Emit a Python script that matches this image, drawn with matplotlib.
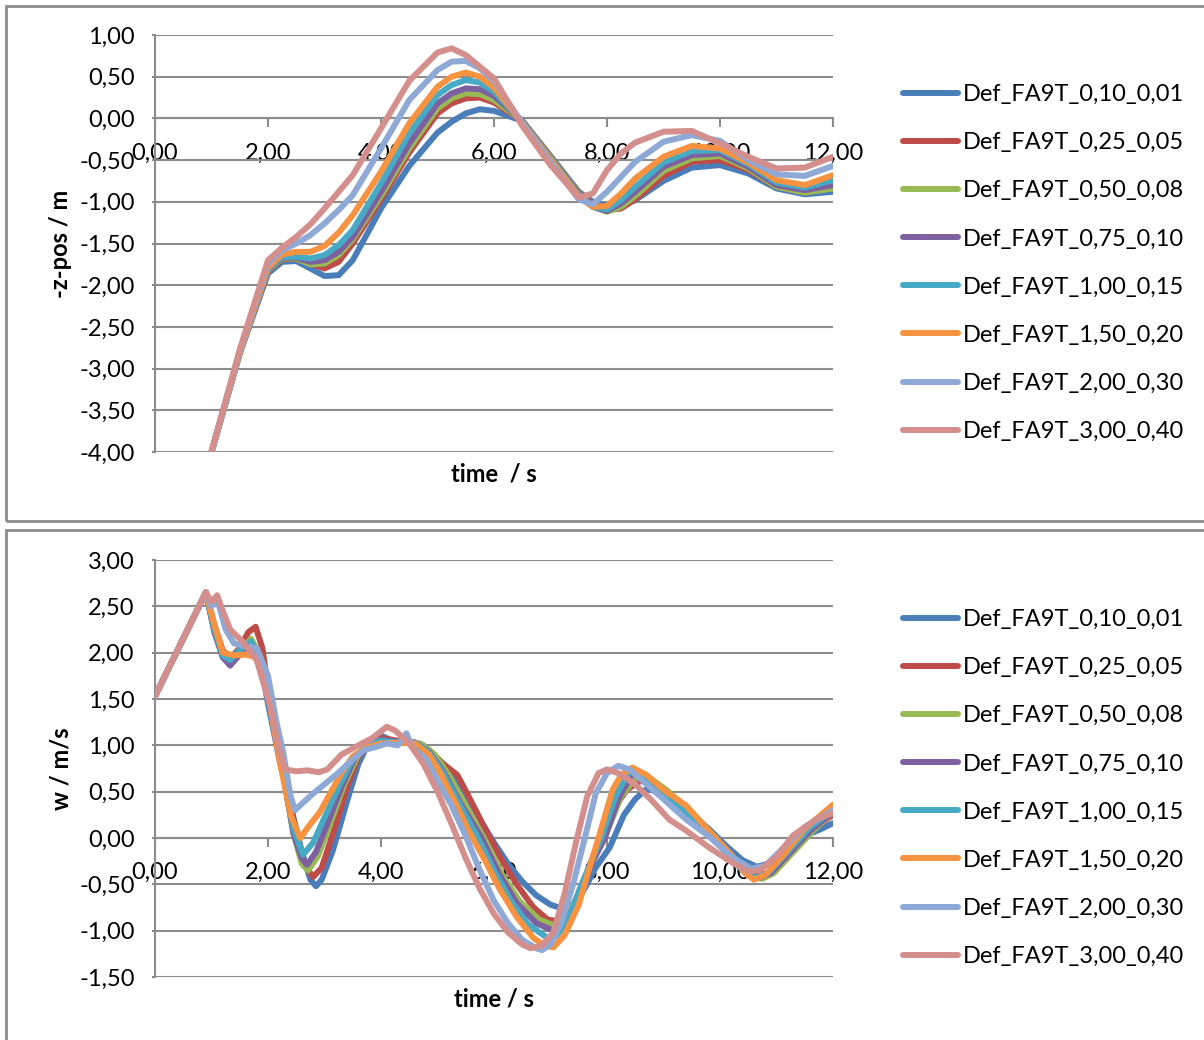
import matplotlib
matplotlib.use("Agg")
import matplotlib.pyplot as plt
from matplotlib.patches import Rectangle
from matplotlib.ticker import FuncFormatter, MultipleLocator

plt.rcParams['font.family'] = ['Lato', 'DejaVu Sans']

labels = ["Def_FA9T_0,10_0,01", "Def_FA9T_0,25_0,05", "Def_FA9T_0,50_0,08",
          "Def_FA9T_0,75_0,10", "Def_FA9T_1,00_0,15", "Def_FA9T_1,50_0,20",
          "Def_FA9T_2,00_0,30", "Def_FA9T_3,00_0,40"]
colors = ['#4A7EBB', '#BE4B48', '#98B954', '#7D60A0',
          '#46AAC5', '#F69240', '#8EA9D6', '#D48F8D']

# ---- top panel: -z-pos over time (common time grid)
t_pos = [1.0, 1.5, 2.0, 2.25, 2.5, 2.75, 3.0, 3.25, 3.5, 4.0, 4.5, 5.0, 5.25, 5.5,
         5.75, 6.0, 6.5, 7.0, 7.5, 7.75, 8.0, 8.25, 8.5, 9.0, 9.5, 10.0, 10.5,
         11.0, 11.5, 12.0]
pos_010 = [-4.0, -2.82, -1.86, -1.72, -1.71, -1.80, -1.89, -1.88, -1.70, -1.08, -0.57,
           -0.17, -0.04, 0.06, 0.11, 0.09, -0.03, -0.45, -0.88, -1.00, -1.05, -1.05,
           -0.98, -0.75, -0.59, -0.56, -0.66, -0.84, -0.91, -0.88]
pos_025 = [-4.0, -2.81, -1.83, -1.69, -1.68, -1.74, -1.80, -1.72, -1.50, -0.97, -0.41,
           0.06, 0.18, 0.24, 0.25, 0.19, -0.03, -0.46, -0.89, -1.03, -1.10, -1.08,
           -0.97, -0.69, -0.52, -0.50, -0.62, -0.82, -0.89, -0.82]
pos_050 = [-4.0, -2.81, -1.82, -1.68, -1.68, -1.75, -1.74, -1.64, -1.45, -0.93, -0.36,
           0.12, 0.24, 0.30, 0.29, 0.22, -0.03, -0.46, -0.90, -1.06, -1.12, -1.06,
           -0.93, -0.63, -0.48, -0.45, -0.60, -0.82, -0.89, -0.84]
pos_075 = [-4.0, -2.81, -1.81, -1.67, -1.67, -1.72, -1.70, -1.60, -1.42, -0.88, -0.30,
           0.18, 0.30, 0.36, 0.35, 0.27, -0.03, -0.47, -0.91, -1.06, -1.11, -1.02,
           -0.88, -0.58, -0.44, -0.42, -0.58, -0.80, -0.86, -0.80]
pos_100 = [-4.0, -2.81, -1.80, -1.66, -1.66, -1.68, -1.64, -1.52, -1.34, -0.78, -0.18,
           0.28, 0.40, 0.46, 0.43, 0.32, -0.04, -0.48, -0.92, -1.06, -1.09, -0.98,
           -0.82, -0.53, -0.39, -0.38, -0.55, -0.77, -0.83, -0.74]
pos_150 = [-4.0, -2.81, -1.79, -1.63, -1.60, -1.60, -1.53, -1.37, -1.16, -0.64, -0.06,
           0.38, 0.50, 0.55, 0.50, 0.37, -0.05, -0.49, -0.94, -1.06, -1.05, -0.90,
           -0.72, -0.46, -0.33, -0.36, -0.53, -0.74, -0.80, -0.68]
pos_200 = [-4.0, -2.79, -1.74, -1.58, -1.50, -1.40, -1.26, -1.10, -0.92, -0.36, 0.22,
           0.58, 0.68, 0.69, 0.60, 0.45, -0.06, -0.52, -0.97, -1.03, -0.88, -0.70,
           -0.52, -0.28, -0.20, -0.27, -0.50, -0.67, -0.69, -0.57]
pos_300 = [-4.0, -2.77, -1.70, -1.55, -1.42, -1.27, -1.08, -0.88, -0.68, -0.12, 0.45,
           0.79, 0.84, 0.76, 0.62, 0.48, -0.09, -0.56, -0.95, -0.90, -0.62, -0.42,
           -0.29, -0.16, -0.15, -0.30, -0.46, -0.60, -0.59, -0.46]

# ---- bottom panel: w over time (own key points per run)
t_w_010 = [0, 0.9, 1.05, 1.2, 1.33, 1.5, 1.7, 1.85, 2.0, 2.2, 2.4, 2.6, 2.75, 2.85, 2.95,
           3.15, 3.4, 3.6, 3.8, 3.95, 4.2, 4.5, 4.75, 5.0, 5.25, 5.5, 5.75, 6.0, 6.25,
           6.5, 6.75, 7.0, 7.2, 7.4, 7.6, 7.8, 8.05, 8.3, 8.5, 8.7, 8.9, 9.2, 9.5, 9.8,
           10.1, 10.4, 10.65, 10.9, 11.2, 11.5, 11.8, 12.0]
w_010 = [1.53, 2.65, 2.25, 1.95, 1.88, 2.0, 2.12, 1.95, 1.45, 0.85, 0.35, -0.15, -0.45,
         -0.52, -0.45, -0.13, 0.40, 0.80, 1.05, 1.12, 1.05, 1.03, 1.0, 0.86, 0.70, 0.48,
         0.20, -0.05, -0.28, -0.47, -0.62, -0.72, -0.76, -0.72, -0.55, -0.32, -0.10,
         0.25, 0.42, 0.53, 0.50, 0.40, 0.25, 0.10, -0.08, -0.24, -0.31, -0.27, -0.12,
         0.02, 0.10, 0.16]
t_w_025 = [0, 0.9, 1.05, 1.2, 1.35, 1.5, 1.65, 1.78, 1.9, 2.05, 2.25, 2.45, 2.65, 2.8,
           2.95, 3.15, 3.4, 3.6, 3.8, 4.0, 4.3, 4.6, 4.85, 5.1, 5.35, 5.55, 5.8, 6.1,
           6.4, 6.7, 6.95, 7.15, 7.35, 7.6, 7.85, 8.1, 8.35, 8.6, 8.8, 9.1, 9.5, 9.9,
           10.3, 10.6, 10.85, 11.2, 11.6, 12.0]
w_025 = [1.53, 2.65, 2.30, 2.02, 1.95, 2.05, 2.22, 2.28, 2.05, 1.40, 0.75, 0.20, -0.30,
         -0.42, -0.32, 0.05, 0.55, 0.88, 1.02, 1.08, 1.05, 1.03, 0.95, 0.80, 0.68, 0.45,
         0.15, -0.20, -0.50, -0.75, -0.88, -0.90, -0.80, -0.45, -0.05, 0.30, 0.52, 0.62,
         0.58, 0.45, 0.22, -0.02, -0.28, -0.40, -0.38, -0.18, 0.08, 0.25]
t_w_050 = [0, 0.9, 1.05, 1.2, 1.33, 1.5, 1.7, 1.85, 2.05, 2.25, 2.45, 2.6, 2.71, 2.88,
           3.1, 3.35, 3.6, 3.85, 4.1, 4.4, 4.7, 4.95, 5.2, 5.5, 5.82, 6.15, 6.45, 6.8,
           7.05, 7.25, 7.5, 7.75, 7.99, 8.25, 8.55, 8.75, 9.05, 9.45, 9.85, 10.25, 10.55,
           10.75, 10.95, 11.3, 11.65, 12.0]
w_050 = [1.53, 2.65, 2.25, 1.98, 1.92, 2.02, 2.15, 1.98, 1.42, 0.75, 0.05, -0.28, -0.35,
         -0.20, 0.15, 0.58, 0.90, 1.04, 1.05, 1.03, 1.02, 0.90, 0.68, 0.35, 0.0, -0.40,
         -0.68, -0.88, -0.94, -0.88, -0.62, -0.25, 0.05, 0.45, 0.68, 0.65, 0.52, 0.30,
         0.05, -0.22, -0.40, -0.44, -0.38, -0.15, 0.08, 0.28]
t_w_075 = [0, 0.9, 1.05, 1.2, 1.33, 1.5, 1.7, 1.85, 2.05, 2.25, 2.45, 2.6, 2.69, 2.85,
           3.05, 3.3, 3.55, 3.8, 4.0, 4.3, 4.6, 4.85, 5.1, 5.4, 5.78, 6.1, 6.4, 6.75,
           7.05, 7.25, 7.5, 7.75, 7.96, 8.2, 8.45, 8.65, 8.95, 9.35, 9.75, 10.15, 10.45,
           10.7, 10.9, 11.25, 11.6, 12.0]
w_075 = [1.53, 2.65, 2.22, 1.95, 1.86, 1.98, 2.10, 1.95, 1.40, 0.75, 0.05, -0.22, -0.29,
         -0.15, 0.15, 0.55, 0.88, 1.03, 1.06, 1.04, 1.03, 0.93, 0.72, 0.38, 0.0, -0.40,
         -0.70, -0.92, -1.0, -0.92, -0.65, -0.25, 0.0, 0.42, 0.70, 0.68, 0.52, 0.30, 0.07,
         -0.18, -0.38, -0.43, -0.38, -0.15, 0.08, 0.28]
t_w_100 = [0, 0.9, 1.05, 1.2, 1.33, 1.5, 1.7, 1.85, 2.05, 2.25, 2.45, 2.62, 2.8, 3.0,
           3.25, 3.5, 3.75, 4.0, 4.3, 4.6, 4.85, 5.1, 5.4, 5.7, 6.0, 6.3, 6.6, 6.95, 7.1,
           7.3, 7.55, 7.9, 8.15, 8.4, 8.6, 8.9, 9.3, 9.7, 10.1, 10.4, 10.65, 10.85, 11.2,
           11.6, 12.0]
w_100 = [1.53, 2.65, 2.25, 1.97, 1.92, 2.03, 2.12, 1.95, 1.40, 0.75, 0.10, -0.18, -0.05,
         0.22, 0.55, 0.85, 1.0, 1.05, 1.03, 1.03, 0.92, 0.70, 0.35, 0.02, -0.35, -0.68,
         -0.93, -1.08, -1.06, -0.90, -0.50, 0.0, 0.45, 0.72, 0.70, 0.55, 0.33, 0.10,
         -0.15, -0.35, -0.43, -0.38, -0.15, 0.12, 0.30]
t_w_150 = [0, 0.9, 1.05, 1.2, 1.4, 1.6, 1.8, 2.0, 2.2, 2.4, 2.57, 2.75, 2.92, 3.1, 3.3,
           3.5, 3.75, 4.0, 4.3, 4.6, 4.85, 5.05, 5.3, 5.55, 5.84, 6.1, 6.4, 6.7, 6.9,
           7.05, 7.25, 7.5, 7.7, 7.85, 8.1, 8.25, 8.45, 8.7, 9.0, 9.4, 9.8, 10.2, 10.45,
           10.6, 10.8, 11.1, 11.5, 12.0]
w_150 = [1.53, 2.65, 2.30, 2.0, 1.97, 1.98, 1.95, 1.55, 0.85, 0.25, 0.0, 0.15, 0.28,
         0.48, 0.70, 0.88, 0.98, 1.02, 1.03, 1.02, 0.90, 0.70, 0.40, 0.08, -0.24, -0.55,
         -0.85, -1.08, -1.16, -1.18, -1.05, -0.72, -0.30, 0.0, 0.52, 0.68, 0.76, 0.68,
         0.52, 0.35, 0.08, -0.18, -0.38, -0.45, -0.40, -0.20, 0.10, 0.36]
t_w_200 = [0, 0.9, 1.0, 1.1, 1.25, 1.4, 1.6, 1.8, 2.0, 2.15, 2.27, 2.4, 2.48, 2.6, 2.8,
           3.0, 3.2, 3.45, 3.7, 3.9, 4.1, 4.3, 4.45, 4.55, 4.8, 5.0, 5.25, 5.5, 5.75,
           6.0, 6.25, 6.5, 6.75, 6.85, 7.0, 7.2, 7.4, 7.6, 7.8, 8.0, 8.2, 8.4, 8.7, 9.0,
           9.4, 9.8, 10.2, 10.55, 10.8, 11.1, 11.5, 12.0]
w_200 = [1.53, 2.65, 2.50, 2.58, 2.25, 2.10, 2.07, 2.05, 1.75, 1.25, 0.92, 0.45, 0.30,
         0.37, 0.48, 0.58, 0.68, 0.82, 0.95, 0.98, 1.02, 1.0, 1.13, 0.98, 0.85, 0.62,
         0.35, 0.02, -0.35, -0.68, -0.92, -1.10, -1.19, -1.21, -1.15, -0.90, -0.50,
         -0.02, 0.48, 0.70, 0.78, 0.74, 0.58, 0.42, 0.20, 0.02, -0.20, -0.33, -0.30,
         -0.12, 0.12, 0.30]
t_w_300 = [0, 0.9, 1.0, 1.1, 1.2, 1.33, 1.55, 1.8, 2.05, 2.2, 2.3, 2.5, 2.7, 2.9, 3.05,
           3.3, 3.6, 3.85, 4.1, 4.25, 4.5, 4.75, 5.0, 5.25, 5.5, 5.75, 6.0, 6.25, 6.5,
           6.65, 6.85, 7.05, 7.25, 7.45, 7.65, 7.85, 8.0, 8.2, 8.5, 8.8, 9.1, 9.4, 9.8,
           10.2, 10.5, 10.7, 11.0, 11.3, 11.7, 12.0]
w_300 = [1.53, 2.65, 2.55, 2.62, 2.45, 2.25, 2.12, 1.92, 1.40, 0.95, 0.74, 0.72, 0.73,
         0.71, 0.74, 0.90, 1.0, 1.08, 1.20, 1.16, 1.02, 0.80, 0.50, 0.15, -0.22, -0.55,
         -0.82, -1.02, -1.15, -1.19, -1.16, -1.02, -0.60, -0.05, 0.45, 0.70, 0.74, 0.70,
         0.58, 0.40, 0.20, 0.08, -0.10, -0.26, -0.36, -0.35, -0.20, 0.03, 0.20, 0.27]

pos_series = [pos_010, pos_025, pos_050, pos_075, pos_100, pos_150, pos_200, pos_300]
w_series = [(t_w_010, w_010), (t_w_025, w_025), (t_w_050, w_050), (t_w_075, w_075),
            (t_w_100, w_100), (t_w_150, w_150), (t_w_200, w_200), (t_w_300, w_300)]

grey = '#8C8C8C'
fs = 17
lw = 4.3


def comma(v, pos):
    s = f"{v:.2f}".replace('.', ',')
    return '0,00' if s == '-0,00' else s


def style_axis(ax, ylim, ystep):
    ax.set_xlim(0, 12)
    ax.set_ylim(*ylim)
    ax.xaxis.set_major_locator(MultipleLocator(2))
    ax.yaxis.set_major_locator(MultipleLocator(ystep))
    ax.xaxis.set_major_formatter(FuncFormatter(comma))
    ax.yaxis.set_major_formatter(FuncFormatter(comma))
    ax.spines['top'].set_visible(False)
    ax.spines['right'].set_visible(False)
    ax.spines['bottom'].set_position(('data', 0))
    for sp in ('left', 'bottom'):
        ax.spines[sp].set_color(grey)
        ax.spines[sp].set_linewidth(1.5)
    ax.grid(axis='y', color=grey, lw=1.5)
    ax.set_axisbelow(True)
    ax.tick_params(axis='x', direction='out', length=6.5, width=1.5, color=grey,
                   labelsize=fs, pad=11)
    ax.tick_params(axis='y', direction='out', length=2.5, width=1.5, color=grey,
                   labelsize=fs, pad=12)
    ax.patch.set_alpha(0)


fig = plt.figure(figsize=(12.04, 10.4), dpi=100)

# panel frames
for y0, h in [(1 - 521 / 1040, 515 / 1040), (-10 / 1040, 520 / 1040)]:
    fig.patches.append(Rectangle((6 / 1204, y0), 1.2, h, transform=fig.transFigure,
                                 fill=False, edgecolor=grey, lw=2))

ax1 = fig.add_axes([155 / 1204, 1 - 452 / 1040, 678 / 1204, 417 / 1040])
ax2 = fig.add_axes([155 / 1204, 1 - 977 / 1040, 678 / 1204, 417 / 1040])

for vals, c, lab in zip(pos_series, colors, labels):
    ax1.plot(t_pos, vals, color=c, lw=lw, label=lab, zorder=3,
             solid_capstyle='round', solid_joinstyle='round')
for (tt, vals), c, lab in zip(w_series, colors, labels):
    ax2.plot(tt, vals, color=c, lw=lw, label=lab, zorder=3,
             solid_capstyle='round', solid_joinstyle='round')

style_axis(ax1, (-4, 1), 0.5)
style_axis(ax2, (-1.5, 3), 0.5)

ax1.set_ylabel('-z-pos / m', fontsize=fs, fontweight='bold')
ax1.yaxis.set_label_coords(-0.122, 0.5)
ax1.set_xlabel('time  / s', fontsize=fs, fontweight='bold')
ax1.xaxis.set_label_coords(0.5, -0.024)
ax2.set_ylabel('w / m/s', fontsize=fs, fontweight='bold')
ax2.yaxis.set_label_coords(-0.122, 0.5)
ax2.set_xlabel('time / s', fontsize=fs, fontweight='bold')
ax2.xaxis.set_label_coords(0.5, -0.024)

for ax, yc in [(ax1, 1 - 263 / 1040), (ax2, 1 - 788 / 1040)]:
    ax.legend(loc='center left', bbox_to_anchor=(903 / 1204, yc),
              bbox_transform=fig.transFigure, frameon=False, fontsize=fs,
              handlelength=2.35, handletextpad=0.2, labelspacing=1.15,
              borderpad=0, borderaxespad=0)

fig.savefig('out.png', dpi=100)
